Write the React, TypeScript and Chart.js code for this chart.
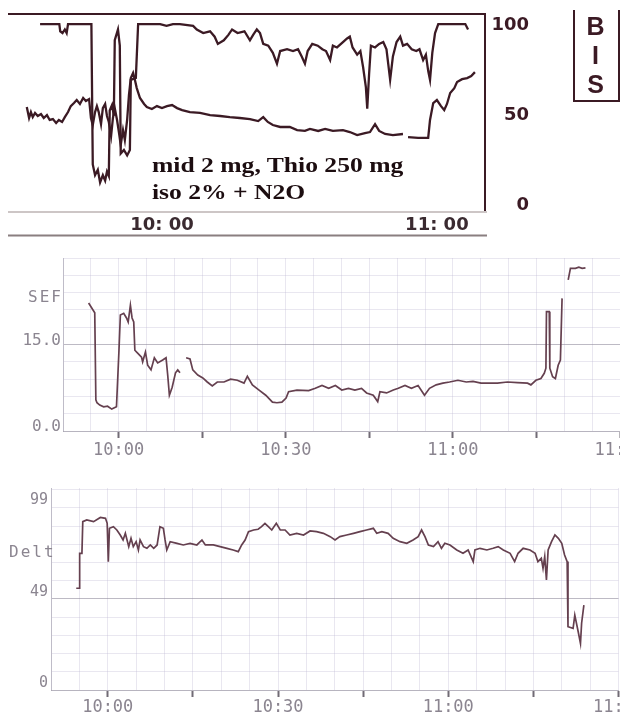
import React, { useEffect, useRef } from "react";
import { Chart, registerables } from "chart.js";

Chart.register(...registerables);

// ---------------- DATA (time = minutes after 09:00) ----------------
type Pt = [number, number | null];

// Panel 1 : BIS monitor, upper trace (signal quality)
const sqiTrace: Pt[] = [
  [33.4, 100], [37.6, 100], [37.8, 96], [38.3, 95], [38.8, 97], [39.2, 95], [39.5, 100], [44.6, 100],
  [44.9, 22], [45.4, 16], [46.0, 19], [46.5, 12], [47.1, 16], [47.6, 13], [48.0, 18], [48.4, 15.6],
  [48.6, 52], [49.1, 55], [49.5, 49], [49.7, 91], [50.4, 97], [50.8, 88], [51.0, 28], [51.7, 30],
  [52.4, 27], [53.0, 30], [53.2, 69], [54.3, 70], [54.8, 100], [57.0, 100], [59.6, 100], [61.0, 99],
  [62.4, 100], [63.9, 100], [66.8, 99], [67.6, 97], [69.0, 95], [70.5, 96], [71.5, 93], [72.2, 89],
  [73.5, 91], [74.5, 94], [75.3, 97], [76.5, 95], [78.0, 96], [79.2, 91], [79.9, 94], [80.7, 97],
  [81.4, 95], [82.1, 89], [83.2, 88], [84.2, 84], [85.1, 78], [85.8, 85], [87.3, 86], [88.6, 85],
  [89.7, 86], [90.5, 82], [91.2, 78], [91.8, 85], [92.8, 89], [94.0, 88], [95.0, 86], [95.8, 85],
  [96.7, 80], [97.3, 88], [98.2, 87], [99.5, 90], [100.4, 92], [101.0, 93], [101.6, 87], [102.6, 83],
  [103.3, 85], [103.9, 76], [104.5, 65], [104.8, 53], [105.2, 72], [105.6, 88], [106.5, 87], [107.4, 89],
  [108.3, 90], [109.0, 86], [109.8, 69], [110.4, 82], [111.2, 90], [112.0, 93], [112.6, 88], [113.5, 89],
  [114.5, 86], [115.5, 85], [116.2, 86], [117.0, 80], [117.6, 83], [118.1, 74], [118.5, 69], [119.0, 84],
  [119.6, 95], [120.3, 100], [122.0, 100], [124.0, 100], [126.2, 100], [126.8, 97],
];

// Panel 1 : BIS value trace
const bisTrace: Pt[] = [
  [30.5, 53.9], [31.0, 47.8], [31.4, 51.1], [31.8, 48.3], [32.3, 50.6], [32.9, 48.9], [33.6, 50.0],
  [34.2, 47.8], [34.9, 49.4], [35.5, 46.7], [36.2, 47.2], [36.9, 45.0], [37.5, 46.7], [38.2, 45.6],
  [38.8, 48.3], [39.5, 51.1], [40.1, 54.4], [40.8, 56.1], [41.4, 57.8], [42.1, 55.6], [42.8, 58.9],
  [43.4, 57.2], [44.1, 58.3], [44.5, 47.8], [44.9, 43.9], [45.4, 51.1], [45.8, 54.4], [46.2, 51.1],
  [46.7, 44.4], [47.1, 53.3], [47.6, 55.6], [48.0, 48.9], [48.4, 45.6], [48.9, 37.8], [49.3, 47.8],
  [49.7, 53.3], [50.2, 46.7], [50.6, 40.0], [51.0, 32.8], [51.5, 41.1], [51.9, 35.6], [52.4, 46.7],
  [52.8, 60.6], [53.2, 70.0], [53.7, 72.8], [54.1, 68.9], [54.5, 64.4], [55.2, 58.9], [56.1, 55.6],
  [56.7, 53.9], [57.8, 52.8], [58.9, 54.4], [60.0, 53.3], [61.1, 54.4], [62.2, 55.0], [63.3, 53.3],
  [64.4, 52.2], [66.1, 51.1], [68.3, 50.6], [70.5, 49.4], [72.7, 48.9], [74.8, 48.3], [77.0, 47.8],
  [79.2, 47.2], [81.0, 46.1], [82.1, 48.3], [83.1, 45.6], [84.2, 43.9], [85.8, 42.8], [87.9, 42.8],
  [89.5, 41.1], [91.2, 40.6], [92.3, 41.7], [94.1, 40.6], [95.6, 41.7], [97.3, 40.6], [99.5, 41.1],
  [101.0, 40.0], [102.6, 38.3], [104.3, 39.4], [105.4, 40.0], [106.5, 44.4], [107.4, 40.6], [108.7, 38.9],
  [110.4, 38.3], [112.6, 38.9], [113.2, null], [113.7, 37.2], [115.9, 36.7], [118.1, 36.7], [118.5, 46.7],
  [119.2, 56.1], [120.0, 57.8], [120.9, 54.4], [121.6, 52.2], [122.2, 55.6], [122.9, 61.7], [123.8, 64.4],
  [124.4, 67.8], [125.5, 69.4], [126.6, 70.0], [127.5, 71.1], [128.3, 73.3],
];

const bisTimeTicks = [60, 120];
const bisTimeLabels = ["10: 00", "11: 00"];
const bisValueTicks = [0, 50, 100];

// Panel 2 : SEF trend
const sefTrace: Pt[] = [
  [54.6, 22.2], [55.7, 20.5], [55.9, 5.4], [56.1, 4.9], [56.6, 4.5], [57.3, 4.2], [58.0, 4.3], [58.75, 3.8],
  [59.6, 4.2], [60.05, 14.0], [60.3, 20.1], [60.9, 20.4], [61.4, 19.6], [61.7, 18.9], [62.1, 21.8], [62.4, 19.6],
  [62.7, 18.9], [62.9, 14.0], [63.4, 13.5], [64.1, 12.8], [64.3, 12.0], [64.8, 13.7], [65.2, 11.4], [65.8, 10.6],
  [66.4, 12.7], [67.0, 11.8], [67.9, 12.3], [68.5, 12.7], [68.8, 9.7], [69.1, 6.2], [69.6, 7.6], [70.2, 10.1],
  [70.6, 10.6], [71.0, 10.1], [71.5, null], [72.1, 12.7], [72.8, 12.5], [73.3, 10.6], [74.2, 9.7], [75.1, 9.2],
  [75.9, 8.5], [76.8, 7.8], [77.7, 8.5], [78.9, 8.5], [80.1, 9.0], [81.3, 8.8], [82.5, 8.3], [83.1, 9.5],
  [84.0, 8.0], [85.2, 7.1], [86.4, 6.2], [87.6, 5.0], [88.4, 4.9], [89.3, 5.0], [90.05, 5.7], [90.5, 6.8],
  [92.0, 7.1], [94.1, 7.0], [95.3, 7.4], [96.5, 7.9], [97.7, 7.4], [98.9, 7.9], [100.05, 7.1], [101.25, 7.4],
  [102.4, 7.1], [103.6, 7.4], [104.5, 6.6], [105.7, 6.2], [106.5, 5.1], [106.9, 6.8], [108.1, 6.6], [109.3, 7.1],
  [110.2, 7.4], [111.4, 7.9], [112.55, 7.4], [113.75, 7.9], [114.9, 6.2], [115.8, 7.4], [117.0, 8.0], [118.2, 8.3],
  [119.4, 8.5], [120.9, 8.8], [122.4, 8.5], [123.6, 8.6], [125.05, 8.3], [126.55, 8.3], [128.0, 8.3], [129.8, 8.5],
  [131.6, 8.4], [133.4, 8.3], [134.0, 8.0], [134.9, 8.8], [135.8, 9.1], [136.4, 10.0], [136.7, 10.9], [136.8, 20.7],
  [137.3, 20.7], [137.4, 10.9], [137.9, 9.4], [138.4, 9.1], [138.9, 11.4], [139.3, 12.3], [139.6, 23.0], [140.2, null],
  [140.7, 26.2], [141.1, 28.2], [142.0, 28.2], [142.6, 28.4], [143.2, 28.2], [143.8, 28.3],
];
const sefValueTicks = [0, 3, 6, 9, 12, 15, 18, 21, 24, 27, 30];
const sefValueLabels: Record<number, string> = { 0: "0.0", 15: "15.0" };

// Panel 3 : Delta power trend
const deltTrace: Pt[] = [
  [54.45, 52.3], [55.0, 52.3], [55.05, 71.2], [55.45, 71.2], [55.6, 88.3], [56.3, 89.2], [57.5, 88.3], [58.7, 90.6],
  [59.6, 90.1], [59.9, 87.4], [60.1, 66.7], [60.3, 84.7], [61.0, 85.6], [61.6, 83.8], [62.2, 81.1], [62.7, 78.4],
  [63.1, 82.0], [63.7, 74.8], [64.1, 79.3], [64.5, 74.8], [65.0, 77.5], [65.4, 73.0], [65.7, 78.4], [66.3, 74.8],
  [66.9, 73.9], [67.5, 75.7], [68.1, 73.9], [68.7, 75.7], [69.2, 85.6], [69.8, 84.7], [70.1, 78.4], [70.4, 73.0],
  [71.0, 77.5], [72.2, 76.6], [73.3, 75.7], [74.5, 76.6], [75.7, 75.7], [76.6, 78.4], [77.2, 75.7], [78.6, 75.7],
  [79.8, 74.8], [81.0, 73.9], [82.1, 73.0], [83.0, 72.1], [83.6, 75.7], [84.2, 78.4], [84.8, 82.9], [85.7, 83.8],
  [86.5, 84.2], [87.1, 85.6], [87.7, 87.4], [88.3, 85.6], [88.9, 83.8], [89.7, 87.4], [90.4, 83.8], [91.25, 83.8],
  [92.1, 81.1], [93.3, 82.0], [94.5, 81.1], [95.65, 83.3], [96.8, 82.9], [98.0, 82.0], [99.2, 80.2], [100.05, 78.4],
  [100.9, 80.2], [102.1, 81.1], [103.3, 82.0], [104.45, 82.9], [105.6, 83.8], [106.8, 84.7], [107.4, 82.0], [108.3, 82.9],
  [109.4, 82.0], [110.3, 79.3], [111.5, 77.5], [112.7, 76.6], [113.8, 78.4], [114.7, 80.2], [115.3, 83.8], [115.9, 80.2],
  [116.5, 75.7], [117.4, 74.8], [118.2, 77.5], [118.8, 73.9], [119.4, 76.6], [120.3, 75.7], [121.5, 73.0], [122.6, 71.2],
  [123.5, 73.0], [124.4, 66.7], [124.7, 73.0], [125.6, 73.9], [126.8, 73.0], [127.9, 73.9], [128.8, 74.8], [129.7, 73.0],
  [130.9, 71.2], [131.7, 66.7], [132.3, 71.2], [133.2, 73.9], [134.4, 73.0], [135.3, 71.2], [135.8, 66.7], [136.4, 68.5],
  [136.7, 63.1], [137.0, 69.4], [137.3, 56.8], [137.6, 73.0], [138.2, 77.5], [138.8, 81.1], [139.4, 79.3], [140.0, 76.6],
  [140.5, 70.3], [140.95, 66.7], [141.1, 31.5], [142.0, 30.6], [142.3, 37.8], [142.9, 28.8], [143.3, 22.5], [143.5, 33.4],
  [143.9, 43.2],
];
const deltGridTicks = [-2.7, 7.15, 17.0, 26.85, 36.7, 46.55, 56.4, 66.25, 76.1, 85.95, 95.8, 105.65];
const deltLabelTicks = [0, 49, 99];

// Shared time axis of the two trend panels
const trendGridTimes = [50, 55, 60, 65, 70, 75, 80, 85, 90, 95, 100, 105, 110, 115, 120, 125, 130, 135, 140, 145, 150];
const trendMajorTimes = [60, 75, 90, 105, 120, 135, 150];
const trendTimeLabels: Record<number, string> = { 60: "10:00", 90: "10:30", 120: "11:00", 150: "11:30" };

// ---------------- STYLE ----------------
const MAROON = "#3b1a24";
const TRACE = "#65404f";
const GRID = "rgba(190,184,210,0.34)";
const GRID_STRONG = "rgba(145,140,156,0.6)";
const LABEL_GRAY = "#8b8590";
const MONO = "'DejaVu Sans Mono', monospace";

const toXY = (pts: Pt[]) => pts.map(([x, y]) => ({ x, y }));

const lineDs = (pts: Pt[], color: string, width: number) => ({
  data: toXY(pts),
  borderColor: color,
  borderWidth: width,
  pointRadius: 0,
  tension: 0,
  spanGaps: false,
  fill: false,
});

const baseOptions = {
  animation: false,
  responsive: false,
  devicePixelRatio: 1,
  plugins: { legend: { display: false }, tooltip: { enabled: false } },
  events: [],
};

const bisFramePlugin = {
  id: "bisFrame",
  afterDraw(chart: any) {
    const { ctx, chartArea: a } = chart;
    ctx.save();
    ctx.strokeStyle = MAROON;
    ctx.lineWidth = 2;
    ctx.beginPath();
    ctx.moveTo(a.left, a.top);
    ctx.lineTo(a.right + 1, a.top);
    ctx.moveTo(a.right, a.top);
    ctx.lineTo(a.right, a.bottom);
    ctx.stroke();
    ctx.strokeStyle = "#bdb3b3";
    ctx.lineWidth = 1.5;
    ctx.beginPath();
    ctx.moveTo(a.left, a.bottom + 1);
    ctx.lineTo(a.right + 2, a.bottom + 1);
    ctx.stroke();
    ctx.strokeStyle = "#8a7f80";
    ctx.lineWidth = 2;
    ctx.beginPath();
    ctx.moveTo(a.left, a.bottom + 24.5);
    ctx.lineTo(a.right + 2, a.bottom + 24.5);
    ctx.stroke();
    ctx.restore();
  },
};

const bisConfig: any = {
  type: "line",
  data: { datasets: [lineDs(sqiTrace, MAROON, 2.3), lineDs(bisTrace, MAROON, 2.3)] },
  options: {
    ...baseOptions,
    layout: { padding: { left: 8, top: 14, right: 91, bottom: 0 } },
    scales: {
      x: {
        type: "linear",
        min: 26.4,
        max: 130.5,
        grid: { display: false, drawTicks: false },
        border: { display: false },
        afterBuildTicks: (axis: any) => { axis.ticks = bisTimeTicks.map((value) => ({ value })); },
        afterFit: (axis: any) => { axis.height = 29; },
        ticks: {
          autoSkip: false,
          maxRotation: 0,
          padding: 4,
          color: "#3a2a30",
          font: { family: "'DejaVu Sans', sans-serif", size: 18, weight: "bold" },
          callback: (v: number) => bisTimeLabels[bisTimeTicks.indexOf(v)] ?? "",
        },
      },
      y: {
        type: "linear",
        position: "right",
        min: -3.9,
        max: 105.6,
        grid: { display: false, drawTicks: false },
        border: { display: false },
        afterBuildTicks: (axis: any) => { axis.ticks = bisValueTicks.map((value) => ({ value })); },
        afterFit: (axis: any) => { axis.width = 44; },
        ticks: {
          autoSkip: false,
          padding: 0,
          crossAlign: "far",
          labelOffset: 1,
          color: MAROON,
          font: { family: "'DejaVu Sans', sans-serif", size: 18, weight: "bold" },
          callback: (v: number) => String(v),
        },
      },
    },
  },
  plugins: [bisFramePlugin],
};

const trendX = (height: number, labelPad: number) => ({
  type: "linear",
  min: 50,
  max: 150,
  grid: {
    display: true,
    color: GRID,
    lineWidth: 1,
    drawTicks: true,
    tickLength: 7,
    tickWidth: 2,
    tickColor: (c: any) => (c.tick && trendMajorTimes.includes(c.tick.value) ? "#716b75" : "rgba(0,0,0,0)"),
  },
  border: { display: true, color: "rgba(150,146,160,0.6)", width: 1 },
  afterBuildTicks: (axis: any) => { axis.ticks = trendGridTimes.map((value) => ({ value })); },
  afterFit: (axis: any) => { axis.height = height; },
  ticks: {
    autoSkip: false,
    maxRotation: 0,
    padding: labelPad,
    color: LABEL_GRAY,
    font: { family: MONO, size: 17 },
    callback: (v: number) => trendTimeLabels[v] ?? "",
  },
});

const sefConfig: any = {
  type: "line",
  data: { datasets: [lineDs(sefTrace, TRACE, 1.7)] },
  options: {
    ...baseOptions,
    layout: { padding: { left: 0, top: 18, right: 60, bottom: 0 } },
    scales: {
      x: trendX(39, 2),
      y: {
        type: "linear",
        min: 0,
        max: 30,
        grid: {
          drawTicks: false,
          color: (c: any) => (c.tick && c.tick.value === 15 ? GRID_STRONG : GRID),
        },
        border: { display: true, color: "rgba(150,146,160,0.5)" },
        afterBuildTicks: (axis: any) => { axis.ticks = sefValueTicks.map((value) => ({ value })); },
        afterFit: (axis: any) => { axis.width = 63; },
        ticks: {
          autoSkip: false,
          padding: 2,
          labelOffset: -4,
          color: LABEL_GRAY,
          font: { family: MONO, size: 16 },
          callback: (v: number) => sefValueLabels[v] ?? "",
        },
      },
    },
  },
};

const deltAllTicks = [...deltGridTicks, ...deltLabelTicks].sort((a, b) => a - b);

const deltConfig: any = {
  type: "line",
  data: { datasets: [lineDs(deltTrace, TRACE, 1.7)] },
  options: {
    ...baseOptions,
    layout: { padding: { left: 0, top: 18, right: 61.5, bottom: 0 } },
    scales: {
      x: trendX(29, 0),
      y: {
        type: "linear",
        min: -2.7,
        max: 106.5,
        grid: {
          drawTicks: false,
          color: (c: any) => {
            if (!c.tick) return GRID;
            if (deltLabelTicks.includes(c.tick.value)) return "rgba(0,0,0,0)";
            return c.tick.value === 46.55 ? GRID_STRONG : GRID;
          },
        },
        border: { display: true, color: "rgba(150,146,160,0.5)" },
        afterBuildTicks: (axis: any) => { axis.ticks = deltAllTicks.map((value) => ({ value })); },
        afterFit: (axis: any) => { axis.width = 51; },
        ticks: {
          autoSkip: false,
          padding: 3,
          labelOffset: -2,
          color: LABEL_GRAY,
          font: { family: MONO, size: 15 },
          callback: (v: number) => (deltLabelTicks.includes(v) ? String(v) : ""),
        },
      },
    },
  },
};

function ChartCanvas({ config, width, height, left, top }: any) {
  const ref = useRef<HTMLCanvasElement>(null);
  useEffect(() => {
    const chart = new Chart(ref.current as HTMLCanvasElement, config);
    return () => chart.destroy();
  }, [config]);
  return (
    <canvas
      ref={ref}
      width={width}
      height={height}
      style={{ position: "absolute", left, top, width, height, display: "block" }}
    />
  );
}

export default function App() {
  return (
    <div
      style={{
        position: "fixed",
        left: 0,
        top: 0,
        width: 620,
        height: 719,
        overflow: "hidden",
        background: "#ffffff",
      }}
    >
      <ChartCanvas config={bisConfig} width={620} height={240} left={0} top={0} />
      <ChartCanvas config={sefConfig} width={680} height={230} left={0} top={240} />
      <ChartCanvas config={deltConfig} width={680} height={249} left={0} top={470} />

      {/* drug annotation in panel 1 */}
      <div
        style={{
          position: "absolute",
          left: 152,
          top: 152,
          fontFamily: "'Liberation Serif', 'Times New Roman', serif",
          fontWeight: "bold",
          fontSize: 20,
          lineHeight: "27px",
          color: "#1c0d10",
          whiteSpace: "nowrap",
          transform: "scaleX(1.28)",
          transformOrigin: "0 0",
        }}
      >
        <div>mid 2 mg, Thio 250 mg</div>
        <div>iso 2% + N2O</div>
      </div>

      {/* BIS legend box */}
      <div
        style={{
          position: "absolute",
          left: 573,
          top: 10,
          width: 43,
          height: 90,
          borderLeft: `2px solid ${MAROON}`,
          borderBottom: `2px solid ${MAROON}`,
          borderRight: `2px solid ${MAROON}`,
        }}
      />
      {["B", "I", "S"].map((ch, i) => (
        <div
          key={ch}
          style={{
            position: "absolute",
            left: 575,
            width: 41,
            top: 12 + i * 29,
            height: 29,
            lineHeight: "29px",
            textAlign: "center",
            fontFamily: "'Liberation Sans', Arial, sans-serif",
            fontWeight: "bold",
            fontSize: 25,
            color: MAROON,
          }}
        >
          {ch}
        </div>
      ))}

      {/* trend titles */}
      <div
        style={{
          position: "absolute",
          left: 28,
          top: 289,
          fontFamily: MONO,
          fontSize: 16,
          lineHeight: "16px",
          letterSpacing: 2,
          color: LABEL_GRAY,
        }}
      >
        SEF
      </div>
      <div
        style={{
          position: "absolute",
          left: 9,
          top: 544,
          fontFamily: MONO,
          fontSize: 16,
          lineHeight: "16px",
          letterSpacing: 2,
          color: LABEL_GRAY,
        }}
      >
        Delt
      </div>
    </div>
  );
}
